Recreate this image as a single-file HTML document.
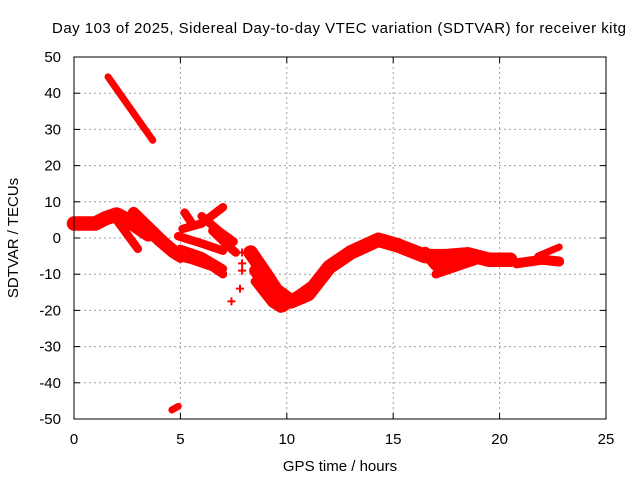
<!DOCTYPE html>
<html><head><meta charset="utf-8"><style>
body{margin:0;background:#fff;font-family:"Liberation Sans",sans-serif}
svg text{font-family:"Liberation Sans",sans-serif;font-size:15px;fill:#000}
</style></head><body>
<svg id="chart" width="640" height="480" viewBox="0 0 640 480" xmlns="http://www.w3.org/2000/svg">
<text x="52" y="33" textLength="574" lengthAdjust="spacing">Day 103 of 2025, Sidereal Day-to-day VTEC variation (SDTVAR) for receiver kitg</text>
<g id="grid"></g>
<g id="ticks"></g>
<g id="marks"></g>
<rect x="74" y="57" width="532" height="362" fill="none" stroke="#000" stroke-width="1"/>
<text x="340" y="471" text-anchor="middle">GPS time / hours</text>
<text transform="translate(18,238) rotate(-90)" text-anchor="middle">SDTVAR / TECUs</text>
</svg>
<script>
const xTicks=[0,5,10,15,20,25];
const yTicks=[50,40,30,20,10,0,-10,-20,-30,-40,-50];
// tracks: [hour, TECU] points; widths in TECU units
const track1=[[0,4],[0.5,4],[1,4],[1.5,5.5],[2,6.5],[2.5,5],[3,3],[3.5,1]];
const track2=[[1.6,44.5],[2.5,37],[3.7,27]];
const track3=[[4.6,-47.5],[4.9,-46.5]];
const track4=[[2.8,7],[3.5,3],[4.2,-1],[5,-5]];
const track5=[[2,5],[2.5,1],[3,-3]];
const track6=[[3.3,3],[4,-1],[4.6,-4],[5,-5.5]];
const track7=[[5.1,2.5],[6,4],[7,8.5]];
const track8=[[5.2,7],[5.6,3.5]];
const track9=[[4.9,0.5],[6,-1.5],[7,-3.5]];
const track10=[[5,-3],[6,-5],[7,-8.5]];
const track11=[[4.8,-5],[5.5,-6],[6.5,-8],[7,-10]];
const track12=[[6,6],[6.8,2],[7.5,-1]];
const track13=[[6.5,2],[7.2,-2],[7.6,-4]];
const track14=[[8.3,-4],[9,-10],[9.5,-14.5],[10.2,-17.5],[11,-15.5],[12,-8],[13,-4],[14.3,-0.5],[15.2,-2],[16.5,-5],[17.5,-5],[18.5,-4.5],[19.5,-6],[20.5,-6]];
const track15=[[8.5,-9],[9.2,-15],[9.8,-19],[10.8,-15],[11.5,-12]];
const track16=[[8.5,-12],[9.3,-18],[9.7,-19.5]];
const track17=[[16.5,-4],[17,-7.5],[18,-7],[19,-5.5]];
const track18=[[17,-10],[18,-8],[19,-6]];
const track19=[[20.8,-7],[22,-6],[22.8,-6.5]];
const track20=[[21.8,-5],[22.8,-2.5]];
const tracks=[track1,track2,track3,track4,track5,track6,track7,track8,track9,track10,track11,track12,track13,track14,track15,track16,track17,track18,track19,track20];
const widths=[3.5,1,1,2.5,1.5,2,1.5,1.5,1.5,1.5,1.5,1.5,1.5,3.5,2.5,1.5,2.5,1.5,2,1];
const isolated=[[7.4,-17.5],[7.8,-14],[7.9,-4],[7.9,-7],[7.9,-9],[12.4,-7]];

const X=h=>74+h*532/25, Y=v=>238-v*3.62;
const ns="http://www.w3.org/2000/svg";
const grid=document.getElementById('grid'),ticks=document.getElementById('ticks'),marks=document.getElementById('marks');
function mk(tag,attrs,parent){const e=document.createElementNS(ns,tag);for(const k in attrs)e.setAttribute(k,attrs[k]);parent.appendChild(e);return e;}
xTicks.forEach(t=>{
  if(t>0&&t<25){const g=mk('line',{x1:X(t),x2:X(t),y1:57,y2:419,stroke:'#a0a0a0','stroke-dasharray':'2,3'},grid);
  
  }
  const l=mk('text',{x:X(t),y:444,'text-anchor':'middle'},ticks);l.textContent=t;
  
  
  mk('line',{x1:X(t),x2:X(t),y1:419,y2:413,stroke:'#000'},ticks);
  mk('line',{x1:X(t),x2:X(t),y1:57,y2:63,stroke:'#000'},ticks);
});
yTicks.forEach(t=>{
  if(t>-50&&t<50){const g=mk('line',{x1:74,x2:606,y1:Y(t),y2:Y(t),stroke:'#a0a0a0','stroke-dasharray':'2,3'},grid);
  
  }
  const l=mk('text',{x:61,y:Y(t)+5,'text-anchor':'end'},ticks);l.textContent=t;
  
  
  mk('line',{x1:74,x2:80,y1:Y(t),y2:Y(t),stroke:'#000'},ticks);
  mk('line',{x1:606,x2:600,y1:Y(t),y2:Y(t),stroke:'#000'},ticks);
});
tracks.forEach((tr,i)=>{
  const p=mk('polyline',{points:tr.map(d=>X(d[0])+','+Y(d[1])).join(' '),fill:'none',stroke:'#f00','stroke-width':widths[i]*3+4,'stroke-linejoin':'round','stroke-linecap':'round'},marks);
  
  
});
isolated.forEach(d=>{
  const t=mk('path',{d:`M${X(d[0])-4},${Y(d[1])}h8M${X(d[0])},${Y(d[1])-4}v8`,stroke:'#f00','stroke-width':2},marks);
  
  
});
</script>
</body></html>
